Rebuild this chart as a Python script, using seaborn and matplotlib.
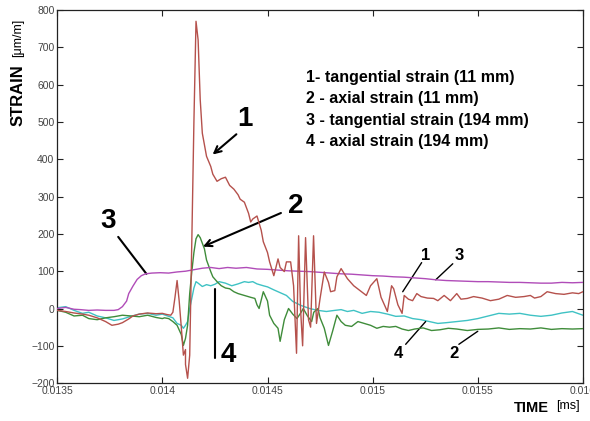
import numpy as np
import pandas as pd
import matplotlib
matplotlib.use("Agg")
import matplotlib.pyplot as plt
import seaborn as sns

# ---------------- data ----------------
t1 = [0.01350, 0.01354, 0.01358, 0.01362, 0.01365, 0.01369, 0.01373, 0.01376, 0.01379, 0.01381,
      0.01384, 0.01386, 0.01389, 0.01393, 0.01397, 0.01400, 0.01402, 0.01404, 0.01405, 0.01406,
      0.01407, 0.01408, 0.01409, 0.01410, 0.01411, 0.01411, 0.01412, 0.01413, 0.01414, 0.01415,
      0.01416, 0.01417, 0.01418, 0.01419, 0.01421, 0.01423, 0.01424, 0.01426, 0.01428, 0.01430,
      0.01432, 0.01434, 0.01436, 0.01437, 0.01439, 0.01441, 0.01442, 0.01443, 0.01445, 0.01447,
      0.01448, 0.01450, 0.01451, 0.01453, 0.01454, 0.01455, 0.01456, 0.01458, 0.01459, 0.01461,
      0.014624, 0.014638, 0.014648, 0.014657, 0.014667, 0.014681, 0.014695, 0.014705, 0.014719, 0.014733,
      0.01475, 0.01477, 0.01479, 0.01480, 0.01482, 0.01483, 0.01485,
      0.01488, 0.01491, 0.01494, 0.01497, 0.01499, 0.01502, 0.01504, 0.01507, 0.01509, 0.01510,
      0.01512, 0.01514, 0.01515, 0.01517, 0.01519, 0.01521, 0.01523, 0.01526, 0.01529, 0.01531,
      0.01534, 0.01537, 0.01540, 0.01542, 0.01545, 0.01548, 0.01552, 0.01556, 0.01560, 0.01564,
      0.01568, 0.01572, 0.01575, 0.01577, 0.01580, 0.01583, 0.01587, 0.01591, 0.01595, 0.01598,
      0.01600]
s1 = [-5, -8, -12, -15, -18, -25, -35, -45, -42, -38,
      -28, -20, -15, -12, -14, -13, -16, -18, -10, 30,
      75, 20, -50, -125, -110, -150, -187, -125, 180, 500,
      770, 720, 560, 470, 408, 381, 360, 341, 348, 352,
      330, 320, 305, 293, 285, 255, 232, 240, 248, 210,
      179, 150, 125, 88, 110, 133, 110, 99, 125, 125,
      61, -120, 195, 0, -100, 190, -30, -50, 195, -40,
      27, 98, 70, 45, 48, 85, 107,
      80, 61, 48, 35, 61, 80, 30, -8, 61, 53,
      10, -13, 35, 25, 21, 40, 32, 28, 27, 21,
      35, 21, 40, 25, 27, 32, 28, 21, 25, 35,
      30, 32, 35, 28, 32, 45, 40, 38, 42, 40,
      45]

t2 = [0.01350, 0.01354, 0.01358, 0.01362, 0.01365, 0.01369, 0.01373, 0.01377, 0.01381, 0.01385,
      0.01389, 0.01393, 0.01397, 0.01400, 0.01401, 0.01403, 0.01405, 0.01407, 0.01409, 0.01410,
      0.01411, 0.01412, 0.01413, 0.01414, 0.01415, 0.01416, 0.01417, 0.01418, 0.01420, 0.01421,
      0.01423, 0.01424, 0.01426, 0.01428, 0.01430, 0.01432, 0.01434, 0.01436, 0.01439, 0.01442,
      0.01444, 0.01445, 0.01446, 0.01448, 0.01450, 0.01451, 0.01453, 0.01455, 0.01456, 0.01458,
      0.01460, 0.01462, 0.01464, 0.01466, 0.01467, 0.01469, 0.01471, 0.01472, 0.01474, 0.01475,
      0.01477, 0.01479, 0.01481, 0.01483, 0.01485, 0.01487, 0.01490, 0.01493, 0.01496, 0.01499,
      0.01502, 0.01505, 0.01508, 0.01511, 0.01514, 0.01517, 0.01520, 0.01524, 0.01528, 0.01532,
      0.01536, 0.01540, 0.01545, 0.01550, 0.01555, 0.01560, 0.01565, 0.01570, 0.01575, 0.01580,
      0.01585, 0.01590, 0.01595, 0.01600]
s2 = [-5, -10, -20, -18, -27, -30, -25, -22, -18, -20,
      -22, -18, -24, -27, -25, -27, -35, -45, -70, -99,
      -80, -45, 40, 99, 150, 187, 198, 190, 160, 130,
      99, 85, 72, 61, 55, 53, 45, 40, 35, 30,
      27, 10, 0, 45, 20, -18, -40, -53, -88, -30,
      0, -15, -27, -10, 0, -20, -35, -10, 0, -25,
      -53, -99, -60, -18, -35, -45, -48, -35, -40, -45,
      -53, -48, -50, -48, -55, -59, -55, -52, -59, -57,
      -53, -55, -59, -56, -55, -52, -56, -54, -55, -52,
      -56, -54, -55, -54]

t3 = [0.01350, 0.01354, 0.01358, 0.01361, 0.01365, 0.01369, 0.01373, 0.01377, 0.01379, 0.01381,
      0.01383, 0.01384, 0.01386, 0.01388, 0.01390, 0.01392, 0.01395, 0.01399, 0.01403, 0.01407,
      0.01411, 0.01415, 0.01419, 0.01423, 0.01427, 0.01431, 0.01435, 0.01440, 0.01445, 0.01450,
      0.01455, 0.01460, 0.01465, 0.01470, 0.01475, 0.01480, 0.01485, 0.01490, 0.01495, 0.01500,
      0.01505, 0.01510, 0.01515, 0.01520, 0.01525, 0.01530, 0.01535, 0.01540, 0.01545, 0.01550,
      0.01555, 0.01560, 0.01565, 0.01570, 0.01575, 0.01580, 0.01585, 0.01590, 0.01595, 0.01600]
s3 = [0, 3, -2, -3, -5, -4, -5, -5, -3, 5,
      20, 40, 60, 78, 88, 93, 95, 96, 95, 98,
      100, 104, 108, 110, 107, 110, 108, 110, 106, 105,
      103, 101, 100, 99, 97, 95, 93, 92, 90, 88,
      87, 85, 84, 82, 80, 77, 75, 74, 73, 72,
      72, 71, 70, 70, 69, 68, 68, 70, 69, 70]

t4 = [0.01350, 0.01354, 0.01358, 0.01362, 0.01365, 0.01369, 0.01373, 0.01377, 0.01381, 0.01385,
      0.01389, 0.01393, 0.01397, 0.01400, 0.01403, 0.01405, 0.01407, 0.01409, 0.01410, 0.01411,
      0.01412, 0.01413, 0.01414, 0.01415, 0.01416, 0.01417, 0.01419, 0.01421, 0.01423, 0.01425,
      0.01427, 0.01430, 0.01433, 0.01436, 0.01439, 0.01441, 0.01443, 0.01445, 0.01448, 0.01450,
      0.01453, 0.01455, 0.01459, 0.01462, 0.01466, 0.01470, 0.01474, 0.01478, 0.01482, 0.01485,
      0.01488, 0.01491, 0.01495, 0.01499, 0.01503, 0.01507, 0.01511, 0.01515, 0.01519, 0.01523,
      0.01527, 0.01531, 0.01535, 0.01540, 0.01545, 0.01550, 0.01555, 0.01560, 0.01565, 0.01570,
      0.01575, 0.01580, 0.01585, 0.01590, 0.01595, 0.01600]
s4 = [2, 5, -5, -13, -10, -20, -25, -32, -28, -21,
      -15, -13, -18, -15, -21, -25, -40, -45, -53, -45,
      -35, 0, 27, 55, 72, 68, 59, 64, 61, 65,
      72, 68, 61, 66, 72, 70, 72, 66, 61, 58,
      50, 45, 35, 19, 8, 0, -5, -8, -5, -3,
      -8, -5, -13, -8, -10, -15, -21, -20, -27, -30,
      -35, -40, -38, -35, -32, -27, -20, -13, -15, -13,
      -18, -21, -18, -12, -8, -18]

names = ["1", "2", "3", "4"]
colors = ["#b5514c", "#3f8c3a", "#b04cb8", "#3fc2c4"]

frames = []
for nm, tt, ss in zip(names, [t1, t2, t3, t4], [s1, s2, s3, s4]):
    frames.append(pd.DataFrame({"time": tt, "strain": ss, "curve": nm}))
df = pd.concat(frames, ignore_index=True)

# ---------------- plotting ----------------
sns.set_theme(style="white")
plt.rcParams["font.family"] = ["Liberation Sans", "DejaVu Sans"]
plt.rcParams["text.color"] = "black"

fig = plt.figure(figsize=(5.9, 4.21), dpi=100)
ax = fig.add_axes([0.097, 0.090, 0.891, 0.886])

for nm, col, z in [("4", colors[3], 2), ("2", colors[1], 3), ("3", colors[2], 4), ("1", colors[0], 5)]:
    sub = df[df["curve"] == nm]
    sns.lineplot(data=sub, x="time", y="strain", color=col, lw=1.0, ax=ax,
                 estimator=None, sort=False, zorder=z)

ax.set_xlim(0.0135, 0.016)
ax.set_ylim(-200, 800)
ax.set_xticks([0.0135, 0.014, 0.0145, 0.015, 0.0155, 0.016])
ax.set_xticklabels(["0.0135", "0.014", "0.0145", "0.015", "0.0155", "0.016"])
ax.set_yticks(range(-200, 801, 100))
ax.set_xlabel("")
ax.set_ylabel("")
for sp in ax.spines.values():
    sp.set_color("#222222")
    sp.set_linewidth(0.9)
ax.tick_params(direction="in", length=4, width=0.8, colors="#222222",
               labelsize=7.5, labelcolor="#444444", top=True, right=True,
               bottom=True, left=True, pad=2)
ax.tick_params(axis="both", which="both", labeltop=False, labelright=False)

# axis titles
fig.text(0.030, 0.774, "STRAIN", rotation=90, ha="center", va="center",
         fontsize=12, fontweight="bold", color="black")
fig.text(0.030, 0.910, "[μm/m]", rotation=90, ha="center", va="center", fontsize=9,
         color="black")
fig.text(0.900, 0.031, "TIME", ha="center", va="center", fontsize=10.5, fontweight="bold",
         color="black")
fig.text(0.962, 0.035, "[ms]", ha="center", va="center", fontsize=9, color="black")

# legend text block
legend_lines = ["1- tangential strain (11 mm)", "2 - axial strain (11 mm)",
                "3 - tangential strain (194 mm)", "4 - axial strain (194 mm)"]
for i, txt in enumerate(legend_lines):
    ax.text(0.014685, 619 - i * 57, txt, ha="left", va="center", fontsize=11.5,
            fontweight="bold", color="black")

# big labels with arrows / leader lines
big = dict(fontsize=20, fontweight="bold", ha="center", va="center", color="black")
ax.text(0.014395, 507, "1", **big)
ax.annotate("", xy=(0.014229, 408), xytext=(0.014362, 472),
            arrowprops=dict(arrowstyle="->", lw=1.5, color="black", mutation_scale=12))
ax.text(0.014633, 275, "2", **big)
ax.annotate("", xy=(0.014181, 163), xytext=(0.014576, 259),
            arrowprops=dict(arrowstyle="->", lw=1.5, color="black", mutation_scale=12))
ax.text(0.013743, 235, "3", **big)
ax.plot([0.01379, 0.013924], [192, 93], color="black", lw=1.5)
ax.text(0.014314, -125, "4", **big)
ax.plot([0.014252, 0.014252], [53, -133], color="black", lw=1.5)

small = dict(fontsize=12, fontweight="bold", ha="center", va="center", color="black")
ax.text(0.015252, 141, "1", **small)
ax.plot([0.015233, 0.015143], [123, 45], color="black", lw=1.0)
ax.text(0.015410, 141, "3", **small)
ax.plot([0.015381, 0.01530], [120, 77], color="black", lw=1.0)
ax.text(0.015124, -120, "4", **small)
ax.plot([0.015157, 0.015252], [-96, -35], color="black", lw=1.0)
ax.text(0.015386, -120, "2", **small)
ax.plot([0.01541, 0.0155], [-96, -61], color="black", lw=1.0)

fig.savefig("out.png", dpi=100)
